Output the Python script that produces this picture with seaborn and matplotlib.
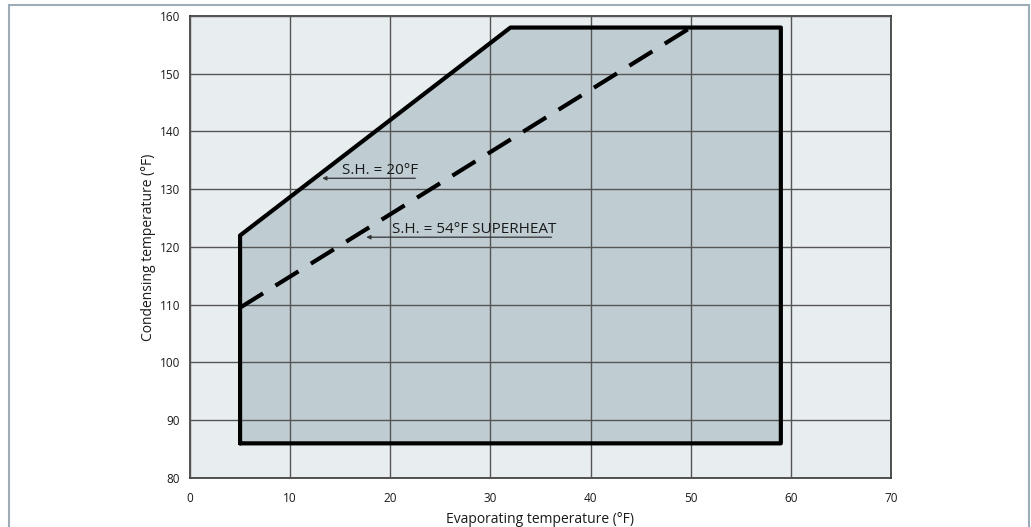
import matplotlib
matplotlib.use('Agg')
from matplotlib import pyplot as plt
import seaborn as sns
import pandas as pd

# operating envelope (evaporating temp, condensing temp), deg F
env_x = [5, 5, 32, 59, 59, 5]
env_y = [86, 122, 158, 158, 86, 86]

# superheat 54F line
sh54_x = [5, 50]
sh54_y = [109.5, 158]

x_ticks = [0, 10, 20, 30, 40, 50, 60, 70]
y_ticks = [80, 90, 100, 110, 120, 130, 140, 150, 160]

label_20 = 'S.H. = 20°F'
label_54 = 'S.H. = 54°F SUPERHEAT'

sns.set_style('white')
plt.rcParams['font.family'] = ['Open Sans', 'DejaVu Sans']

fig = plt.figure(figsize=(10.31, 5.27), dpi=100)
W, H = 1031, 527

# outer frame
fig.patches.append(plt.Rectangle((9 / W, -0.05), (1029 - 9) / W, (527 - 5) / H + 0.05,
                                 transform=fig.transFigure, fill=False,
                                 edgecolor='#9eacb8', linewidth=1.5))

ax = fig.add_axes([190 / W, (527 - 478) / H, 701 / W, 462 / H])
ax.set_facecolor('#e8edf0')

ax.fill(env_x, env_y, color='#bfcdd3', zorder=1)
ax.grid(True, color='#555555', linewidth=1, zorder=2)
ax.set_axisbelow(False)

env = pd.DataFrame({'x': env_x, 'y': env_y})
sns.lineplot(data=env, x='x', y='y', sort=False, color='black', linewidth=3,
             ax=ax, zorder=3, estimator=None)
ax.plot(sh54_x, sh54_y, color='black', linewidth=3, dashes=(6.5, 3.5), zorder=3)

# annotations with underline arrows
ax.annotate('', xy=(13.2, 131.9), xytext=(22.5, 131.9),
            arrowprops=dict(arrowstyle='-|>', color='#333333', lw=0.9,
                            mutation_scale=6, shrinkA=0, shrinkB=0), zorder=4)
ax.text(15.2, 132.0, label_20, fontsize=11, color='#1a1a1a', va='bottom', ha='left', zorder=4)

ax.annotate('', xy=(17.6, 121.7), xytext=(36.1, 121.7),
            arrowprops=dict(arrowstyle='-|>', color='#333333', lw=0.9,
                            mutation_scale=6, shrinkA=0, shrinkB=0), zorder=4)
ax.text(20.2, 121.8, label_54, fontsize=11, color='#1a1a1a', va='bottom', ha='left', zorder=4)

ax.set_xlim(0, 70)
ax.set_ylim(80, 160)
ax.set_xticks(x_ticks)
ax.set_yticks(y_ticks)
ax.tick_params(axis='both', direction='out', length=4, width=1, color='#333333',
               labelsize=8.5, labelcolor='#1a1a1a', pad=3)
ax.tick_params(axis='x', pad=6)
for s in ax.spines.values():
    s.set_color('#333333')
    s.set_linewidth(1.2)

ax.set_xlabel('Evaporating temperature (°F)', fontsize=10, color='#1a1a1a', labelpad=5)
ax.set_ylabel('Condensing temperature (°F)', fontsize=10, color='#1a1a1a', labelpad=3)

fig.savefig('out.png', dpi=100)
